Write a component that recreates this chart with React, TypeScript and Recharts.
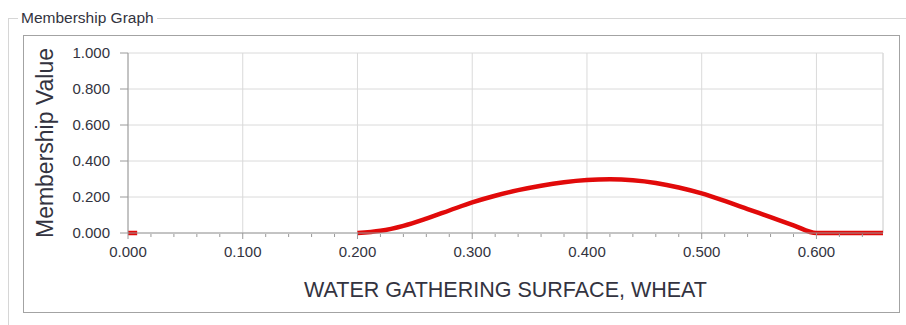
import React from 'react';
import { LineChart, Line, XAxis, YAxis, CartesianGrid, ReferenceLine } from 'recharts';

const X_MAX = 0.658;
const X_TICKS = [0, 0.1, 0.2, 0.3, 0.4, 0.5, 0.6];
const X_MINOR_TICKS = [0.02, 0.04, 0.06, 0.08, 0.12, 0.14, 0.16, 0.18, 0.22, 0.24, 0.26, 0.28, 0.32, 0.34, 0.36, 0.38, 0.42, 0.44, 0.46, 0.48, 0.52, 0.54, 0.56, 0.58, 0.62, 0.64];
const Y_TICKS = [0, 0.2, 0.4, 0.6, 0.8, 1.0];
const Y_MINOR_TICKS = [0.067, 0.133, 0.267, 0.333, 0.467, 0.533, 0.667, 0.733, 0.867, 0.933];

const xValues = [0, 0.008, 0.1, 0.2, 0.22, 0.24, 0.26, 0.28, 0.3, 0.32, 0.34, 0.36, 0.38, 0.4, 0.42, 0.44, 0.46, 0.48, 0.5, 0.52, 0.54, 0.56, 0.58, 0.6, 0.658];
const membership = [0, 0, null, 0, 0.012, 0.04, 0.08, 0.125, 0.17, 0.207, 0.238, 0.263, 0.282, 0.294, 0.298, 0.293, 0.278, 0.253, 0.22, 0.178, 0.133, 0.088, 0.043, 0, 0];

const GROUP_TITLE = 'Membership Graph';
const X_TITLE = 'WATER GATHERING SURFACE, WHEAT';
const Y_TITLE = 'Membership Value';

const data = xValues.map((x, i) => ({ x, y: membership[i] }));

const FONT = '"Liberation Sans", Arial, sans-serif';
const AXIS = '#9a9a9a';
const GRID = '#dadada';
const TEXT = '#333340';

const fmt = (v: number) => v.toFixed(3);
const blank = () => '';

export default function App() {
  return (
    <div style={{ position: 'absolute', left: 0, top: 0, width: 906, height: 325, background: '#fff', overflow: 'hidden', fontFamily: FONT }}>
      <div style={{ position: 'absolute', left: 8, top: 18, width: 920, height: 340, borderLeft: '1px solid #d6d6d6', borderTop: '1px solid #d6d6d6', boxSizing: 'border-box' }} />
      <div style={{ position: 'absolute', left: 18, top: 9, padding: '0 3px', background: '#fff', fontSize: 15.5, lineHeight: '18px', color: TEXT, whiteSpace: 'nowrap' }}>{GROUP_TITLE}</div>
      <div style={{ position: 'absolute', left: 23, top: 35, width: 877, height: 278, border: '1px solid #a3a3a3', boxSizing: 'border-box', background: '#fff' }} />
      <div style={{ position: 'absolute', left: 0, top: 0 }}>
        <LineChart width={906} height={325} data={data} margin={{ top: 53, right: 23, bottom: 90, left: 126 }}>
          <CartesianGrid stroke={GRID} strokeWidth={1} />
          <XAxis type="number" dataKey="x" domain={[0, X_MAX]} ticks={X_TICKS} tickFormatter={fmt} height={1} tickSize={6} tickMargin={7} interval={0}
            axisLine={{ stroke: AXIS }} tickLine={{ stroke: AXIS }} tick={{ fill: TEXT, fontSize: 15, fontFamily: FONT }}
            label={{ content: (p: any) => { const vb = p.viewBox; return <text x={vb.x + vb.width / 2} y={vb.y + 64} textAnchor="middle" fill={TEXT} fontSize={21.5} fontFamily={FONT}>{X_TITLE}</text>; } }} />
          <XAxis xAxisId="minor" type="number" dataKey="x" domain={[0, X_MAX]} ticks={X_MINOR_TICKS} height={1} tickFormatter={blank} tickSize={3} interval={0} axisLine={false} tickLine={{ stroke: AXIS }} tick={{ fontSize: 1 }} />
          <YAxis type="number" domain={[0, 1]} ticks={Y_TICKS} tickFormatter={fmt} width={1} tickSize={8} tickMargin={10} interval={0}
            axisLine={{ stroke: AXIS }} tickLine={{ stroke: AXIS }} tick={{ fill: TEXT, fontSize: 15, fontFamily: FONT }}
            label={{ content: (p: any) => { const vb = p.viewBox; const cx = vb.x + vb.width - 83; const cy = vb.y + vb.height / 2; return <text x={cx} y={cy} transform={`rotate(-90, ${cx}, ${cy})`} textAnchor="middle" dominantBaseline="central" fill={TEXT} fontSize={23} fontFamily={FONT}>{Y_TITLE}</text>; } }} />
          <YAxis yAxisId="minor" type="number" domain={[0, 1]} ticks={Y_MINOR_TICKS} width={1} tickFormatter={blank} tickSize={4} interval={0} axisLine={false} tickLine={{ stroke: AXIS }} tick={{ fontSize: 1 }} />
          <ReferenceLine x={X_MAX} stroke={GRID} />
          <Line type="monotone" dataKey="y" stroke="#e10a0a" strokeWidth={4.5} dot={false} activeDot={false} connectNulls={false} isAnimationActive={false} />
        </LineChart>
      </div>
    </div>
  );
}
